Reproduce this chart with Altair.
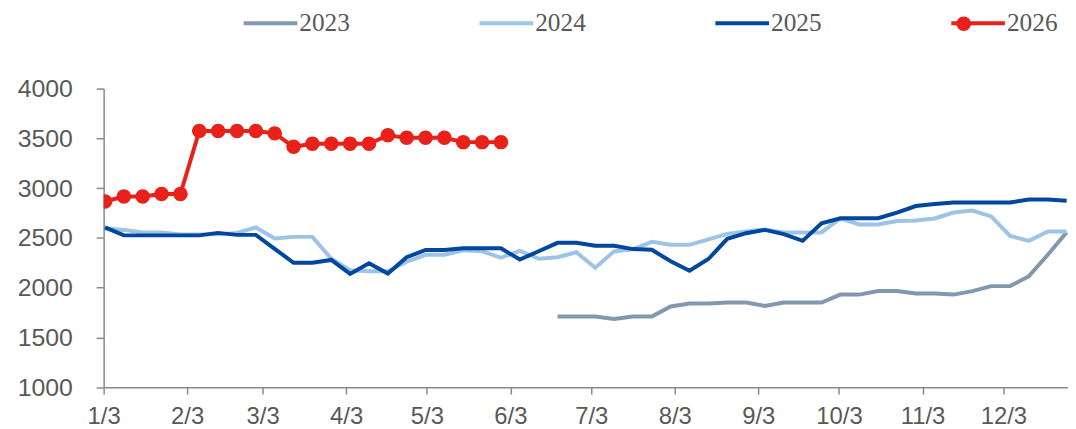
import altair as alt
import pandas as pd

# ---- data (weekly) ----
series_names = ["2023", "2024", "2025", "2026"]
series_colors = ["#8497B0", "#9DC3E6", "#00479D", "#E8211A"]
series_widths = [4, 4, 4, 5]

first_week = "2026-01-03 12:00"
n_weeks = 52
start_2023 = 24  # 2023 series begins at week 24

v2023 = [1710, 1710, 1710, 1685, 1710, 1710, 1810, 1840, 1840, 1850, 1850, 1815, 1850, 1850,
         1850, 1930, 1930, 1965, 1965, 1940, 1940, 1930, 1965, 2015, 2015, 2115, 2330, 2555]
v2024 = [2595, 2580, 2555, 2555, 2535, 2535, 2535, 2550, 2605, 2495, 2510, 2510, 2290, 2175,
         2165, 2165, 2260, 2330, 2330, 2375, 2365, 2300, 2370, 2290, 2305, 2355, 2200, 2365,
         2385, 2460, 2430, 2430, 2485, 2540, 2565, 2585, 2555, 2555, 2555, 2695, 2635, 2635,
         2670, 2675, 2695, 2755, 2775, 2715, 2520, 2470, 2565, 2565]
v2025 = [2605, 2525, 2525, 2525, 2525, 2525, 2550, 2530, 2530, 2390, 2250, 2250, 2278, 2138,
         2245, 2141, 2305, 2378, 2378, 2395, 2395, 2395, 2282, 2365, 2450, 2450, 2420, 2420,
         2387, 2380, 2265, 2170, 2287, 2490, 2547, 2580, 2537, 2470, 2647, 2697, 2697, 2697,
         2753, 2820, 2840, 2856, 2856, 2856, 2856, 2886, 2886, 2872]
v2026 = [2865, 2915, 2915, 2940, 2940, 3573, 3573, 3573, 3573, 3550, 3415, 3445, 3445, 3445,
         3445, 3530, 3505, 3505, 3505, 3462, 3462, 3462]

tick_labels = ["1/3", "2/3", "3/3", "4/3", "5/3", "6/3", "7/3", "8/3", "9/3", "10/3", "11/3", "12/3"]
y_ticks = [1000, 1500, 2000, 2500, 3000, 3500, 4000]

weeks = pd.date_range(first_week, periods=n_weeks, freq="7D")

rows = []
for name, vals, start in [("2023", v2023, start_2023), ("2024", v2024, 0),
                          ("2025", v2025, 0), ("2026", v2026, 0)]:
    for i, v in enumerate(vals):
        rows.append({"date": weeks[start + i], "series": name, "value": v})
df = pd.DataFrame(rows)
df["series_dot"] = df["series"] + "*"   # separate key for the marker legend
dot_names = [n + "*" for n in series_names]

grey_axis = "#898989"
txt = "#595959"
red = series_colors[3]

x_enc = alt.X(
    "date:T",
    scale=alt.Scale(domain=[alt.DateTime(year=2026, month=1, date=3),
                            alt.DateTime(year=2026, month=12, date=27)]),
    axis=alt.Axis(
        values=[alt.DateTime(year=2026, month=m, date=3) for m in range(1, 13)],
        labelExpr=f"{tick_labels}[month(datum.value)]",
        title=None, grid=False,
        domainColor=grey_axis, domainWidth=1.5,
        tickColor=grey_axis, tickWidth=1.5, tickSize=7,
        labelFont="Liberation Sans", labelFontSize=24, labelColor=txt,
        labelPadding=11, labelFlush=False, labelOverlap=False,
    ),
)
y_enc = alt.Y(
    "value:Q",
    scale=alt.Scale(domain=[1000, 4000], nice=False, zero=False),
    axis=alt.Axis(
        values=y_ticks, format="d", title=None, grid=False,
        domainColor=grey_axis, domainWidth=1.5,
        tickColor=grey_axis, tickWidth=1.5, tickSize=7.5,
        labelFont="Liberation Sans", labelFontSize=25, labelColor=txt,
        labelPadding=24,
    ),
)

# shared legend layout (two legends laid exactly on top of each other)
legend_layout = dict(
    orient="none", legendX=139, legendY=-95, direction="horizontal", columns=4,
    title=None, symbolSize=2916, symbolStrokeWidth=5,
    labelFont="Liberation Serif", labelFontSize=25.5, labelColor=txt,
    columnPadding=122.5, padding=0,
)

legend_lines = alt.Legend(symbolType="stroke", labelOffset=0, **legend_layout)
# marker legend: no label text, the label width ("2023" = 51px) is kept by the offset
legend_dots = alt.Legend(
    labelExpr="''", labelOffset=51,
    symbolFillColor=red, symbolStrokeColor=red, **legend_layout,
)

# marker shape: a disc for 2026, nothing for the series without markers
disc = "M-{a},0A{a},{a},0,1,0,{a},0A{a},{a},0,1,0,-{a},0Z".format(a=0.27)
dot_shapes = ["M0,0", "M0,0", "M0,0", disc]

lines = alt.Chart(df).mark_line(clip=True).encode(
    x=x_enc, y=y_enc,
    color=alt.Color("series:N", scale=alt.Scale(domain=series_names, range=series_colors),
                    legend=legend_lines),
    strokeWidth=alt.StrokeWidth("series:N",
                                scale=alt.Scale(domain=series_names, range=series_widths),
                                legend=None),
    order=alt.Order("date:T"),
)

points = alt.Chart(df[df["series"] == "2026"]).mark_point(
    filled=True, size=2916, opacity=1, clip=True, color=red, strokeWidth=0
).encode(
    x=x_enc, y=y_enc,
    shape=alt.Shape("series_dot:N", scale=alt.Scale(domain=dot_names, range=dot_shapes),
                    legend=legend_dots),
)

chart = alt.layer(lines, points).properties(
    width=971, height=300.6,
    autosize=alt.AutoSizeParams(type="none"),
    padding={"left": 96.3, "top": 79.7, "right": 0, "bottom": 39.7},
).configure_view(stroke=None)

chart.save("out.html", embed_options={"renderer": "svg", "actions": False})
